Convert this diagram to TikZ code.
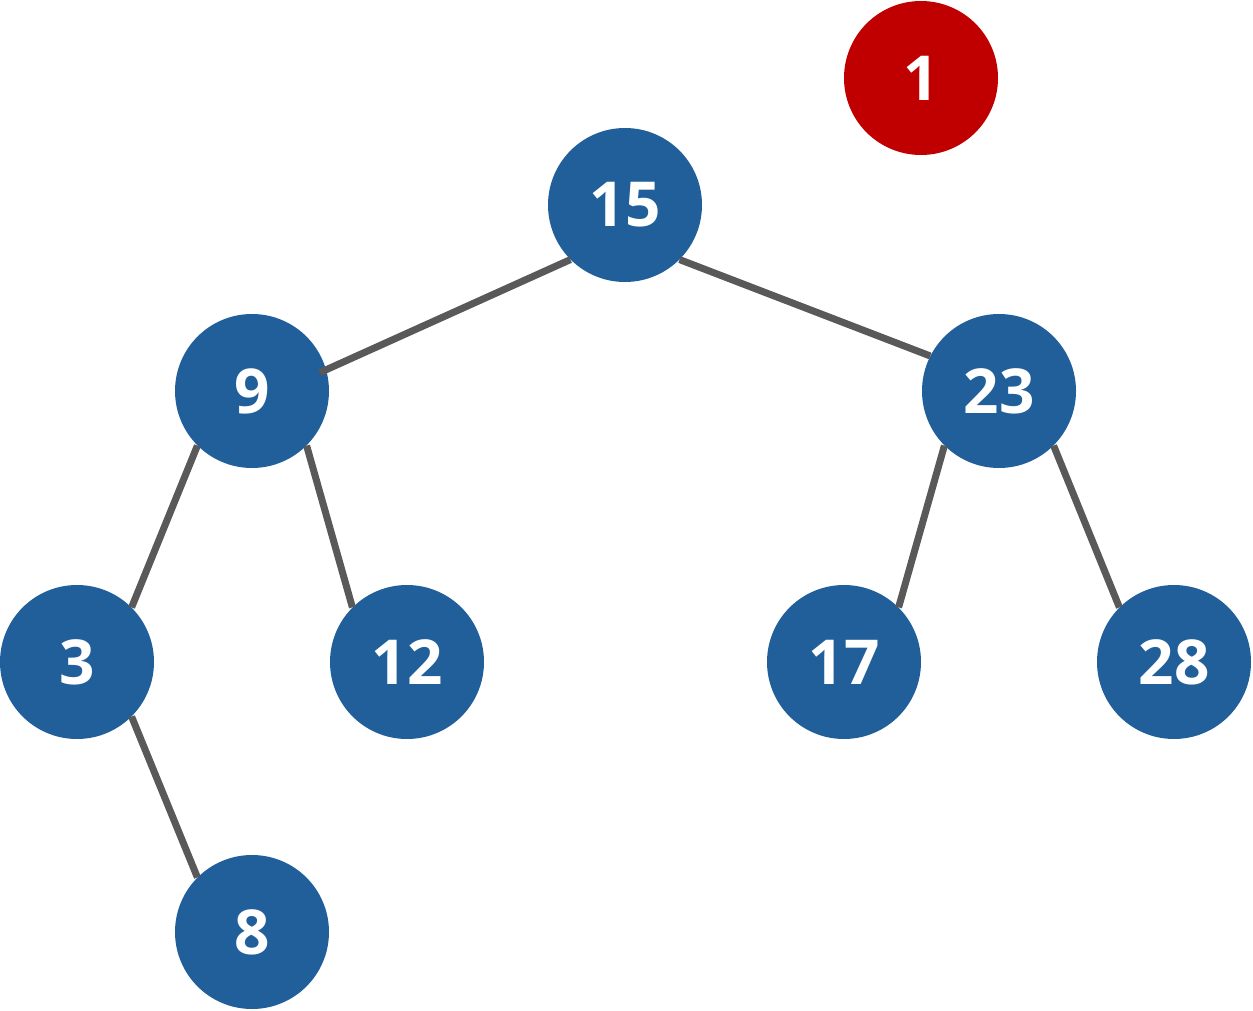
\documentclass[tikz,border=0pt]{standalone}
\usepackage{fontspec}
\setmainfont{Open Sans}
\definecolor{nodeblue}{HTML}{215F9A}
\definecolor{nodered}{HTML}{C00000}
\definecolor{edgegray}{HTML}{595959}
\begin{document}
\begin{tikzpicture}[x=1pt,y=-1pt,
  tn/.style={circle,fill=nodeblue,minimum size=154pt,inner sep=0pt,text=white,font=\fontsize{62}{62}\selectfont\bfseries},
  rn/.style={tn,fill=nodered},
  edge/.style={draw=edgegray,line width=7pt}]
\useasboundingbox (0,0) rectangle (1253,1011);
\node[rn] (n1) at (921,78) {1};
\node[tn] (n15) at (625,205) {15};
\node[tn] (n9) at (252,391) {9};
\node[tn] (n23) at (999,391) {23};
\node[tn] (n3) at (77,662) {3};
\node[tn] (n12) at (407,662) {12};
\node[tn] (n17) at (844,662) {17};
\node[tn] (n28) at (1174,662) {28};
\node[tn] (n8) at (252,932) {8};
\draw[edge,shorten >=-7pt] (n15.south west) -- (n9.16);
\draw[edge] (n15.south east) -- (n23.153);
\draw[edge] (n9.south west) -- (n3.north east);
\draw[edge] (n9.south east) -- (n12.north west);
\draw[edge] (n23.south west) -- (n17.north east);
\draw[edge] (n23.south east) -- (n28.north west);
\draw[edge] (n3.south east) -- (n8.north west);
\end{tikzpicture}
\end{document}
